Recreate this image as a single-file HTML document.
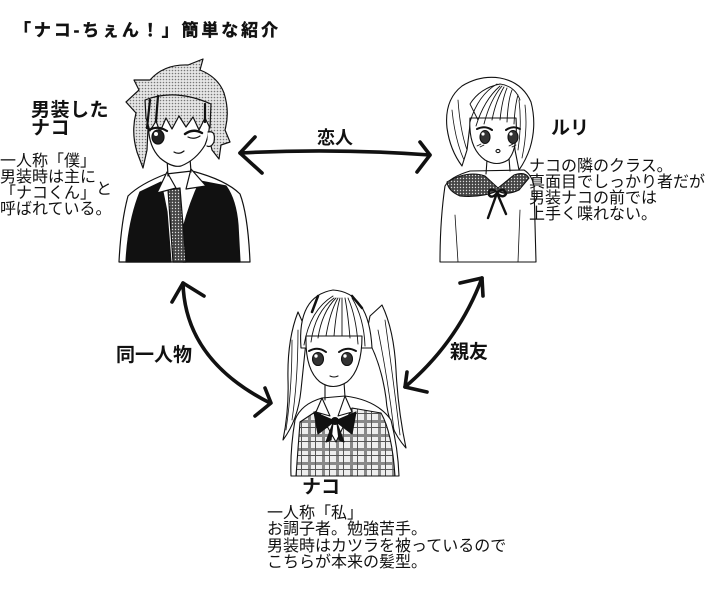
<!DOCTYPE html>
<html><head><meta charset="utf-8">
<style>
html,body{margin:0;padding:0;background:#fff;}
svg{display:block;}
text{font-family:"Liberation Sans","Noto Sans CJK JP",sans-serif;fill:#111;}
.b{font-weight:700;}
</style></head>
<body>
<svg width="724" height="603" viewBox="0 0 724 603" xmlns="http://www.w3.org/2000/svg">
<defs>
  <pattern id="dots" width="3" height="3" patternUnits="userSpaceOnUse">
    <rect width="3" height="3" fill="#e6e6e6"/>
    <circle cx="1.5" cy="1.5" r="0.8" fill="#777"/>
  </pattern>
  <pattern id="dk" width="3" height="3" patternUnits="userSpaceOnUse">
    <rect width="3" height="3" fill="#444"/>
    <circle cx="1.5" cy="1.5" r="0.7" fill="#ddd"/>
  </pattern>
  <pattern id="plaid" width="14" height="14" patternUnits="userSpaceOnUse">
    <rect width="14" height="14" fill="#eee"/>
    <rect x="0" y="0" width="3" height="14" fill="#888"/>
    <rect x="0" y="0" width="14" height="3" fill="#888"/>
    <rect x="7" y="0" width="1" height="14" fill="#555"/>
    <rect x="0" y="7" width="14" height="1" fill="#555"/>
  </pattern>
</defs>

<!-- Title -->
<text class="b" x="14" y="36" font-size="17" textLength="264" lengthAdjust="spacing" stroke="#111" stroke-width="0.4">「ナコ-ちぇん！」簡単な紹介</text>

<!-- ===== Left character (boy Nako) ===== -->
<g stroke="#111" stroke-width="1.2" stroke-linejoin="round" stroke-linecap="round">
  <!-- shirt -->
  <path d="M166,174 Q140,184 128,196 Q121,222 119,262 L250,262 Q248,215 240,194 Q226,180 192,171 Z" fill="#fff"/>
  <!-- vest -->
  <path d="M140,192 L161,182 L167,212 L171,262 L126,262 Q128,222 140,192 Z" fill="#111"/>
  <path d="M200,181 L226,186 Q236,200 238,225 L240,262 L183,262 L183,228 Q190,202 200,181 Z" fill="#111"/>
  <!-- tie -->
  <path d="M168,190 L180,188 L186,262 L173,262 Z" fill="url(#dk)"/>
  <!-- collar -->
  <path d="M167,172 L157,193 L176,188 Z" fill="#fff"/>
  <path d="M191,169 L206,186 L186,189 Z" fill="#fff"/>
  <!-- neck -->
  <path d="M167,158 L168,176 M190,158 L191,172" fill="none"/>
  <!-- hair back -->
  <path d="M126,102 L139,90 L134,80 L150,80 Q164,64 188,65 L203,59 L200,70 Q218,77 224,93 Q230,112 225,130 L230,142 L221,145 L219,159 L212,150 L207,130 L148,128 L147,150 L143,168 L137,152 Q131,132 136,113 Z" fill="url(#dots)"/>
  <!-- face -->
  <path d="M149,116 Q146,144 160,158 Q172,168 181,166 Q196,160 205,145 Q211,130 209,116 Z" fill="#fff"/>
  <!-- bangs -->
  <path d="M145,100 Q175,88 211,104 L210,128 L205,118 L199,130 L193,117 L186,127 L179,116 L172,129 L166,118 L160,132 L156,121 L150,131 L146,118 Z" fill="url(#dots)"/>
  <path d="M150,100 L147,128 M158,96 L156,121 M205,104 L205,122" stroke-width="2.2" fill="none"/>
  <!-- ear -->
  <path d="M208,132 Q216,130 214,142 Q211,148 207,146" fill="#fff"/>
  <!-- eyes -->
  <ellipse cx="158" cy="137" rx="6" ry="7" fill="#222"/>
  <circle cx="156" cy="134" r="2" fill="#fff" stroke="none"/>
  <path d="M149,130 Q158,125 167,131" stroke-width="2.2" fill="none"/>
  <path d="M185,134 Q193,128 202,133" stroke-width="2.4" fill="none"/>
  <path d="M188,137 Q194,140 200,136" fill="none"/>
  <!-- mouth -->
  <path d="M174,152 Q179,155 184,151" fill="none"/>
</g>

<!-- Left texts -->
<text class="b" x="31" y="116" font-size="19" letter-spacing="0.5">男装した</text>
<text class="b" x="31" y="134" font-size="19" letter-spacing="0.5">ナコ</text>
<text x="0" y="166" font-size="16">一人称「僕」</text>
<text x="0" y="182" font-size="16">男装時は主に</text>
<text x="0" y="198" font-size="16">「ナコくん」<tspan dy="-4">と</tspan></text>
<text x="0" y="214" font-size="16">呼ばれている。</text>

<!-- ===== Right character (Ruri) ===== -->
<g stroke="#111" stroke-width="1.1" stroke-linejoin="round" stroke-linecap="round">
  <!-- body -->
  <path d="M470,171 Q450,177 445,186 Q440,220 440,262 L536,262 L534,186 Q532,175 524,170 Z" fill="#fff"/>
  <path d="M455,215 L458,262 M520,210 L518,262" fill="none" stroke-width="0.8"/>
  <!-- neck -->
  <path d="M487,160 L486,174 M509,158 L510,171" fill="none"/>
  <!-- hair -->
  <path d="M462,166 Q450,150 447,128 Q444,100 462,86 Q480,75 500,78 Q522,82 531,102 Q537,125 530,148 Q526,160 519,170 L515,150 L513,125 Q498,118 470,125 L467,150 Z" fill="#fff"/>
  <path d="M452,110 Q455,140 464,160 M458,100 Q460,130 467,150 M525,105 Q528,130 522,158 M519,100 Q522,125 518,150" fill="none" stroke-width="0.8"/>
  <!-- face -->
  <path d="M470,118 Q468,148 485,160 Q497,167 508,160 Q518,150 516,118 Z" fill="#fff"/>
  <!-- bangs -->
  <path d="M470,122 Q478,95 497,84 M476,126 Q484,100 500,86 M484,124 Q490,100 502,86 M492,120 Q496,100 504,87 M500,120 Q502,100 507,88 M507,122 Q508,100 512,90 M514,124 Q515,105 518,95 M478,120 L470,104 Q480,88 500,84 Q515,86 520,100" fill="none" stroke-width="0.9"/>
  <!-- eyes -->
  <ellipse cx="485" cy="137" rx="5" ry="6.5" fill="#333"/>
  <ellipse cx="513" cy="137" rx="5" ry="6.5" fill="#333"/>
  <circle cx="483" cy="134" r="1.6" fill="#fff" stroke="none"/>
  <circle cx="511" cy="134" r="1.6" fill="#fff" stroke="none"/>
  <path d="M477,129 Q485,125 492,130 M506,130 Q513,125 520,129" stroke-width="2" fill="none"/>
  <path d="M477,146 L481,144 M480,147 L484,145 M509,146 L513,144 M512,147 L516,145" stroke-width="0.8" fill="none"/>
  <ellipse cx="498" cy="151" rx="2" ry="1.6" fill="none"/>
  <!-- collar -->
  <path d="M447,182 Q468,170 485,176 L498,188 L514,175 Q525,171 529,178 L519,190 Q506,196 498,191 Q480,198 460,196 Q448,191 447,182 Z" fill="url(#dk)"/>
  <!-- ribbon -->
  <path d="M497,192 Q488,186 489,195 Q492,199 497,193 Q504,186 506,194 Q503,199 497,193 L488,218 M497,193 L506,214" stroke-width="2.4" fill="none"/>
</g>

<!-- Right texts -->
<text class="b" x="551" y="134" font-size="19">ルリ</text>
<text x="529" y="171" font-size="16">ナコの隣のクラス。</text>
<text x="529" y="187" font-size="16">真面目でしっかり者だが</text>
<text x="529" y="203" font-size="16">男装ナコの前では</text>
<text x="529" y="219" font-size="16">上手く喋れない。</text>

<!-- ===== Middle character (girl Nako) ===== -->
<g stroke="#111" stroke-width="1.1" stroke-linejoin="round" stroke-linecap="round">
  <!-- tails -->
  <path d="M298,312 Q287,340 288,380 Q289,410 283,440 Q298,420 301,390 Q304,360 307,332 Z" fill="#fff"/>
  <path d="M292,340 Q292,390 286,430 M298,330 Q298,380 292,420" fill="none" stroke-width="0.8"/>
  <path d="M370,316 L382,305 Q394,330 396,370 Q398,410 406,448 Q388,428 386,398 Q381,362 366,336 Z" fill="#fff"/>
  <path d="M385,320 Q392,370 400,435 M378,330 Q388,380 394,430" fill="none" stroke-width="0.8"/>
  <!-- body -->
  <path d="M322,398 Q301,404 295,420 Q290,450 291,476 L399,476 Q398,448 391,420 Q377,400 345,396 Z" fill="#fff"/>
  <!-- vest plaid -->
  <path d="M300,422 L318,410 L336,442 L352,408 L381,413 Q392,432 395,476 L296,476 Z" fill="url(#plaid)"/>
  <!-- neck -->
  <path d="M325,384 L325,400 M344,382 L345,397" fill="none"/>
  <!-- hair cap -->
  <path d="M301,348 Q297,296 333,290 Q369,292 372,348 Z" fill="#fff"/>
  <!-- face -->
  <path d="M306,336 Q305,370 320,382 Q333,391 347,382 Q362,370 362,336 Z" fill="#fff"/>
  <!-- bangs -->
  <path d="M304,345 Q310,310 333,296 M311,342 Q315,312 334,298 M318,338 Q322,312 336,298 M326,336 Q330,312 338,298 M334,336 Q336,312 340,298 M342,336 Q342,314 342,298 M350,338 Q348,314 345,298 M358,344 Q356,316 348,298 M365,346 Q364,318 352,298" fill="none" stroke-width="0.9"/>
  <path d="M312,312 L318,296 M352,296 L362,308" stroke-width="2.5" fill="none"/>
  <!-- eyes -->
  <ellipse cx="318" cy="359" rx="5.5" ry="6.5" fill="#333"/>
  <ellipse cx="347" cy="359" rx="5.5" ry="6.5" fill="#333"/>
  <circle cx="316" cy="356" r="1.7" fill="#fff" stroke="none"/>
  <circle cx="345" cy="356" r="1.7" fill="#fff" stroke="none"/>
  <path d="M309,351 Q318,346 326,352 M339,352 Q347,346 356,351" stroke-width="2" fill="none"/>
  <path d="M330,376 Q334,378 338,376" fill="none"/>
  <!-- collar -->
  <path d="M322,398 L316,412 L330,416 Z M345,396 L352,412 L338,416 Z" fill="#fff"/>
  <!-- bow -->
  <path d="M335,421 L314,412 L318,434 Z M335,421 L356,412 L352,434 Z M333,423 L326,442 L331,440 Z M337,423 L344,442 L339,440 Z" fill="#111"/>
  <circle cx="335" cy="421" r="3.5" fill="#111"/>
</g>

<!-- Middle texts -->
<text class="b" x="302" y="493" font-size="19">ナコ</text>
<text x="267" y="518" font-size="16">一人称「私」</text>
<text x="267" y="534" font-size="16">お調子者。勉強苦手。</text>
<text x="267" y="551" font-size="16">男装時はカツラを被っているので</text>
<text x="267" y="567" font-size="16">こちらが本来の髪型。</text>

<!-- ===== Arrows ===== -->
<g stroke="#111" stroke-width="3.6" fill="none" stroke-linecap="round" stroke-linejoin="round">
  <path d="M240,153 Q335,148 430,155"/>
  <path d="M255,137 L240,153 L262,173"/>
  <path d="M420,142 L430,155 L417,172"/>

  <path d="M183,283 Q185,360 270,403"/>
  <path d="M172,302 L183,283 L204,296"/>
  <path d="M265,388 L271,403 L255,416"/>

  <path d="M482,278 Q458,342 405,387"/>
  <path d="M460,283 L482,278 L483,296"/>
  <path d="M407,372 L405,387 L427,392"/>
</g>

<text class="b" x="317" y="144" font-size="18">恋人</text>
<text class="b" x="116" y="361" font-size="19">同一人物</text>
<text class="b" x="450" y="358" font-size="19">親友</text>
</svg>
</body></html>
